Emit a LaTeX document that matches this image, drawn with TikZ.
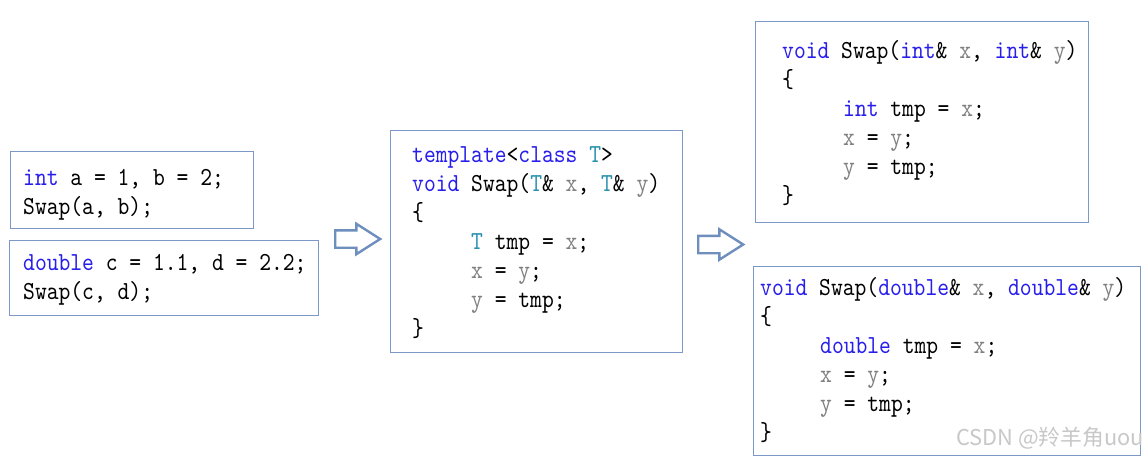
\documentclass[tikz,border=0pt]{standalone}
\usepackage{fontspec}
\usetikzlibrary{shapes.arrows}
\newfontfamily\codefont{lmmono10-regular.otf}[FakeStretch=0.865]
\newfontfamily\cjkfont{Noto Sans CJK SC}
\definecolor{boxc}{RGB}{124,152,198}
\definecolor{arrc}{RGB}{110,142,190}
\definecolor{kw}{RGB}{40,30,235}
\definecolor{ty}{RGB}{43,145,175}
\definecolor{pa}{RGB}{128,128,128}
\definecolor{wm}{RGB}{200,200,200}
\begin{document}
\begin{tikzpicture}[x=1pt,y=-1pt,
  box/.style={draw=boxc, line width=1.3pt, anchor=north west, inner sep=0pt, fill=white},
  code/.style={anchor=base west, inner sep=0pt, font=\codefont\fontsize{26}{29}\selectfont\frenchspacing},
  barrow/.style={single arrow, draw=arrc, fill=white, line width=2.4pt, anchor=tail,
    minimum height=45pt, inner xsep=0pt, inner ysep=7.5pt,
    single arrow head extend=6.5pt, single arrow tip angle=65}]
\useasboundingbox (0,0) rectangle (1143,458);
\newcommand\kw[1]{{\color{kw}#1}}
\newcommand\ty[1]{{\color{ty}#1}}
\newcommand\pa[1]{{\color{pa}#1}}
% box 1
\node[box, minimum width=243pt, minimum height=77pt] (b1) at (10,151) {};
\node[code] (b1l1) at (23,185) {\kw{int} a = 1, b = 2;};
\node[code] (b1l2) at (23,214) {Swap(a, b);};
% box 2
\node[box, minimum width=309pt, minimum height=75pt] (b2) at (9,240) {};
\node[code] (b2l1) at (23,270) {\kw{double} c = 1.1, d = 2.2;};
\node[code] (b2l2) at (23,299) {Swap(c, d);};
% arrow 1
\node[barrow] (a1) at (334,239) {};
% box 3
\node[box, minimum width=292pt, minimum height=222pt] (b3) at (390,130) {};
\node[code] (b3l1) at (412,162) {\kw{template}<\kw{class} \ty{T}>};
\node[code] (b3l2) at (412,191) {\kw{void} Swap(\ty{T}\& \pa{x}, \ty{T}\& \pa{y})};
\node[code] (b3l3) at (412,220) {\{};
\node[code] (b3l4) at (471,249) {\ty{T} tmp = \pa{x};};
\node[code] (b3l5) at (471,278) {\pa{x} = \pa{y};};
\node[code] (b3l6) at (471,307) {\pa{y} = tmp;};
\node[code] (b3l7) at (412,336) {\}};
% arrow 2
\node[barrow] (a2) at (697,244.5) {};
% box 4
\node[box, minimum width=333pt, minimum height=201pt] (b4) at (755,21) {};
\node[code] (b4l1) at (782,58) {\kw{void} Swap(\kw{int}\& \pa{x}, \kw{int}\& \pa{y})};
\node[code] (b4l2) at (782,87) {\{};
\node[code] (b4l3) at (843,116) {\kw{int} tmp = \pa{x};};
\node[code] (b4l4) at (843,145) {\pa{x} = \pa{y};};
\node[code] (b4l5) at (843,174) {\pa{y} = tmp;};
\node[code] (b4l6) at (782,203) {\}};
% box 5
\node[box, minimum width=387pt, minimum height=189pt] (b5) at (753,266) {};
\node[code] (b5l1) at (760,295) {\kw{void} Swap(\kw{double}\& \pa{x}, \kw{double}\& \pa{y})};
\node[code] (b5l2) at (760,324) {\{};
\node[code] (b5l3) at (820,353) {\kw{double} tmp = \pa{x};};
\node[code] (b5l4) at (820,382) {\pa{x} = \pa{y};};
\node[code] (b5l5) at (820,411) {\pa{y} = tmp;};
\node[code] (b5l6) at (760,440) {\}};
% watermark
\node[anchor=base west, inner sep=0pt, text=wm, font=\cjkfont\fontsize{21.8}{24}\selectfont] (wm) at (956,445) {CSDN @羚羊角uou};
\end{tikzpicture}
\end{document}
